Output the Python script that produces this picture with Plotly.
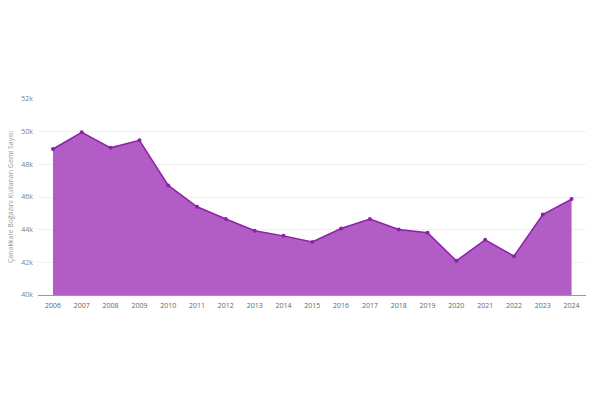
import plotly.graph_objects as go

years = ["2006", "2007", "2008", "2009", "2010", "2011", "2012", "2013", "2014", "2015",
         "2016", "2017", "2018", "2019", "2020", "2021", "2022", "2023", "2024"]
ships = [48940, 49960, 49010, 49470, 46710, 45400, 44650, 43930, 43620, 43250,
         44070, 44650, 44010, 43810, 42090, 43380, 42380, 44930, 45870]
y_ticks = [40000, 42000, 44000, 46000, 48000, 50000, 52000]
y_tick_labels = ["40k", "42k", "44k", "46k", "48k", "50k", "52k"]
y_title = "Çanakkale Boğazını Kullanan Gemi Sayısı"

fig = go.Figure()
fig.add_trace(go.Scatter(
    x=years, y=ships, mode="lines+markers", fill="tozeroy",
    fillcolor="#b25dc5",
    line=dict(color="#8a22a8", width=1.5),
    marker=dict(color="#8a22a8", size=4),
    hoverinfo="x+y",
))

fig.update_layout(
    width=600, height=400,
    margin=dict(l=38, r=14, t=99, b=105),
    paper_bgcolor="white", plot_bgcolor="white",
    showlegend=False,
    font=dict(family="Open Sans, sans-serif", color="#666666", size=7),
)
fig.update_xaxes(
    type="category", range=[-0.52, 18.5], automargin=False,
    showgrid=False, showline=True, linecolor="#999999", linewidth=1,
    ticks="", tickfont=dict(size=7, color="#666666"), ticklabelstandoff=4,
)
fig.update_yaxes(
    range=[40000, 52000], tickvals=y_ticks, ticktext=y_tick_labels,
    automargin=False,
    showgrid=True, gridcolor="#f0f0f0", gridwidth=1, zeroline=False,
    showline=False, ticks="", tickfont=dict(size=7, color="#808080"),
    ticklabelstandoff=4,
    title=dict(text=y_title, font=dict(size=7, color="#999999"), standoff=6),
)

fig.write_html("out.html")
